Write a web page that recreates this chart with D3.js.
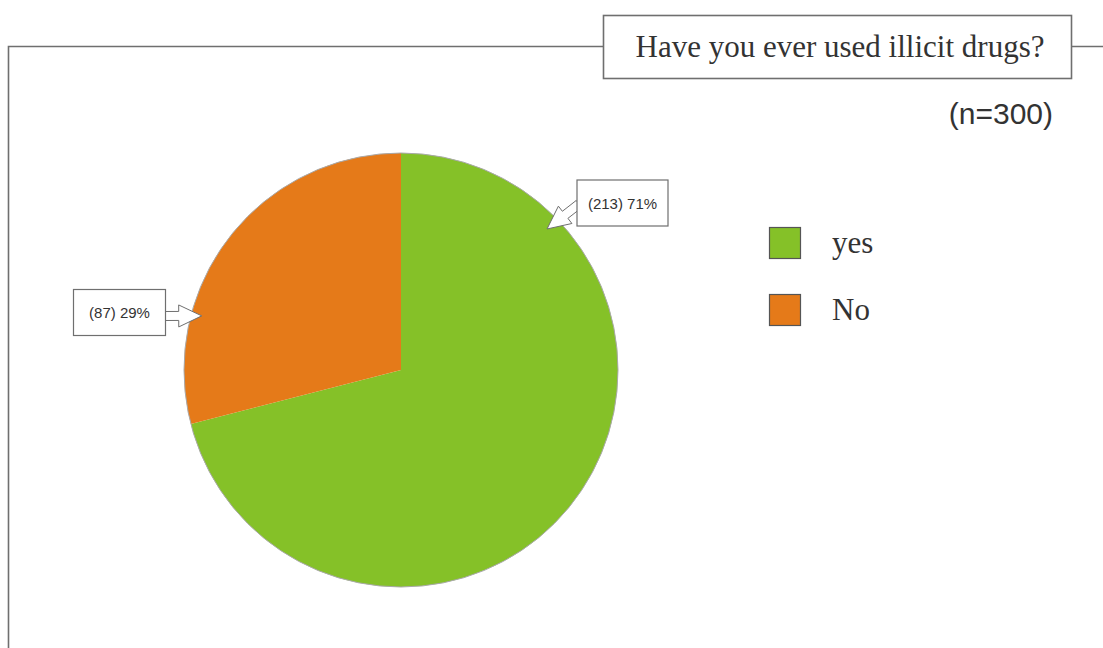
<!DOCTYPE html>
<html>
<head>
<meta charset="utf-8">
<script src="https://cdn.jsdelivr.net/npm/d3@7"></script>
<style>
  html, body { margin: 0; padding: 0; background: #fff; }
  svg { display: block; }
</style>
</head>
<body>
<svg id="chart" width="1103" height="648"></svg>
<script>
// Survey answers
const categories = ["yes", "No"];
const counts = [213, 87];
const percents = [71, 29];
const sampleSize = 300;
const titleText = "Have you ever used illicit drugs?";

const palette = ["#85c128", "#e57a19"];

const svg = d3.select("#chart");
const W = 1103, H = 648;

const rows = categories.map((c, i) => ({ category: c, count: counts[i], pct: percents[i] }));

const color = d3.scaleOrdinal().domain(categories).range(palette);

// Outer frame with the title box breaking the top line
svg.append("path")
  .attr("d", "M8.5," + H + " V46.5 H603 M1072,46.5 H" + W)
  .attr("fill", "none")
  .attr("stroke", "#6f6f6f")
  .attr("stroke-width", 1.6);

svg.append("rect")
  .attr("x", 603.5).attr("y", 15.5)
  .attr("width", 468).attr("height", 63)
  .attr("fill", "#fff")
  .attr("stroke", "#6f6f6f")
  .attr("stroke-width", 1.6);

svg.append("text")
  .attr("x", 840).attr("y", 57)
  .attr("text-anchor", "middle")
  .attr("font-family", "'Liberation Serif', 'Times New Roman', serif")
  .attr("font-size", 31)
  .attr("fill", "#333")
  .text(titleText);

svg.append("text")
  .attr("x", 1053).attr("y", 124)
  .attr("text-anchor", "end")
  .attr("font-family", "'Liberation Sans', Arial, sans-serif")
  .attr("font-size", 30)
  .attr("fill", "#333")
  .text("(n=" + sampleSize + ")");

// Pie
const cx = 401, cy = 370, radius = 217;
const pie = d3.pie().sort(null).value(d => d.count);
const arc = d3.arc().innerRadius(0).outerRadius(radius);
const arcs = pie(rows);

const g = svg.append("g").attr("transform", `translate(${cx},${cy})`);
g.selectAll("path.slice")
  .data(arcs)
  .join("path")
  .attr("class", "slice")
  .attr("d", arc)
  .attr("fill", d => color(d.data.category));

g.append("circle")
  .attr("r", radius)
  .attr("fill", "none")
  .attr("stroke", "#a9a9a9")
  .attr("stroke-width", 1);

// Callouts: block arrow from a label box to a point inside the slice
const callouts = [
  { box: [577, 180, 91, 46], tail: [579, 204], tipAngle: 46.0, tipRadius: 203 },
  { box: [73.5, 289.5, 92, 46], tail: [163, 316], tipAngle: 285.2, tipRadius: 206.5 }
];

function blockArrow(tail, tip, shaftHalf, headHalf, headLen) {
  const dx = tip[0] - tail[0], dy = tip[1] - tail[1];
  const len = Math.hypot(dx, dy);
  const ux = dx / len, uy = dy / len;
  const nx = -uy, ny = ux;
  const hx = tip[0] - ux * headLen, hy = tip[1] - uy * headLen;
  const pts = [
    [tail[0] + nx * shaftHalf, tail[1] + ny * shaftHalf],
    [hx + nx * shaftHalf, hy + ny * shaftHalf],
    [hx + nx * headHalf, hy + ny * headHalf],
    tip,
    [hx - nx * headHalf, hy - ny * headHalf],
    [hx - nx * shaftHalf, hy - ny * shaftHalf],
    [tail[0] - nx * shaftHalf, tail[1] - ny * shaftHalf]
  ];
  return "M" + pts.map(p => p[0].toFixed(2) + "," + p[1].toFixed(2)).join("L") + "Z";
}

rows.forEach((r, i) => {
  const c = callouts[i];
  const p = d3.pointRadial(c.tipAngle * Math.PI / 180, c.tipRadius);
  const tip = [cx + p[0], cy + p[1]];
  svg.append("path")
    .attr("d", blockArrow(c.tail, tip, 4.5, 11, 23))
    .attr("fill", "#fff")
    .attr("stroke", "#6f6f6f")
    .attr("stroke-width", 1);
  svg.append("rect")
    .attr("x", c.box[0]).attr("y", c.box[1])
    .attr("width", c.box[2]).attr("height", c.box[3])
    .attr("fill", "#fff")
    .attr("stroke", "#6f6f6f")
    .attr("stroke-width", 1.2);
  svg.append("text")
    .attr("x", c.box[0] + c.box[2] / 2)
    .attr("y", c.box[1] + c.box[3] / 2 + 5.5)
    .attr("text-anchor", "middle")
    .attr("font-family", "'Liberation Sans', Arial, sans-serif")
    .attr("font-size", 15)
    .attr("fill", "#333")
    .text(`(${r.count}) ${r.pct}%`);
});

// Legend
const legend = svg.append("g").attr("transform", "translate(769.5,227.5)");
const item = legend.selectAll("g")
  .data(rows)
  .join("g")
  .attr("transform", (d, i) => `translate(0,${i * 67})`);
item.append("rect")
  .attr("width", 31).attr("height", 31)
  .attr("fill", d => color(d.category))
  .attr("stroke", "#555")
  .attr("stroke-width", 1.2);
item.append("text")
  .attr("x", 62.5).attr("y", 25)
  .attr("font-family", "'Liberation Serif', 'Times New Roman', serif")
  .attr("font-size", 31)
  .attr("fill", "#333")
  .text(d => d.category);
</script>
</body>
</html>
